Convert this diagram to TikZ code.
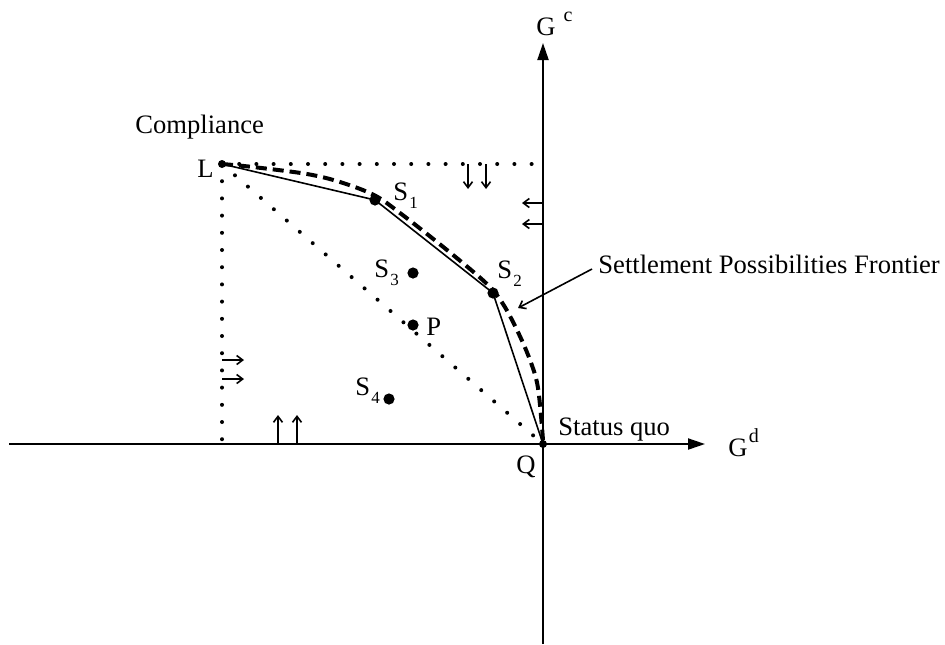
\documentclass[tikz,border=0pt]{standalone}
\usepackage{fontspec}
\setmainfont{Liberation Serif}
\usepackage{tikz}
\usetikzlibrary{arrows.meta,positioning}

\newcommand{\lowidx}[1]{\kern0.6pt\raisebox{-4pt}{\fontsize{8.5pt}{9pt}\selectfont #1}}
\newcommand{\highidx}[2]{\kern#1\raisebox{7pt}{\fontsize{10pt}{11pt}\selectfont #2}}

\begin{document}
\begin{tikzpicture}[x=0.5pt, y=-0.5pt, font=\fontsize{13.3pt}{16pt}\selectfont,
  dot/.style={circle, fill, inner sep=0pt, minimum size=5.6pt},
  lbl/.style={inner sep=0pt, anchor=base west},
  axis/.style={line width=1pt, -{Triangle[length=8.5pt, width=5.5pt]}},
  dotline/.style={line width=2pt, line cap=round, dash pattern=on 0pt off 8.6pt},
  frontier/.style={line width=2pt, dash pattern=on 5.5pt off 3pt},
  edge/.style={line width=0.8pt},
  push/.style={line width=0.8pt, -{Straight Barb[length=3pt, width=4.5pt]}},
]
\useasboundingbox (0,0) rectangle (945,644);

% axes
\coordinate (Q) at (543,444);
\coordinate (L) at (222,164);
\coordinate (xlo) at (9,444);
\coordinate (xhi) at (705,444);
\coordinate (ylo) at (543,644);
\coordinate (yhi) at (543,43);
\draw[axis] (xlo) -- (xhi);
\draw[axis] (ylo) -- (yhi);
\node[lbl] (gd) at (728,456) {G\highidx{0.6pt}{d}};
\node[lbl] (gc) at (536,35) {G\highidx{4pt}{c}};

% bounds of the settlement region
\draw[dotline] (L) -- (Q);
\draw[dotline] (L) -- (L |- Q);
\draw[dotline] (L) -- (Q |- L);

% settlements
\node[dot] (s1) at (375,200) {};
\node[dot] (s2) at (493,293) {};
\node[dot] (s3) at (413,273) {};
\node[dot] (p) at (413,325) {};
\node[dot] (s4) at (389,399) {};
\fill (L) circle (2pt);
\fill (Q) circle (2pt);

\draw[edge] (L) -- (s1.center) -- (s2.center) -- (Q);
\draw[frontier] plot[smooth, tension=0.55] coordinates {(222,164) (253,167) (307,174)
  (340,182) (374,195) (400,213) (447,250) (487,284) (503,304) (517,330) (530,360)
  (538,388) (543,440)};

% labels
\node[lbl] (comp) at (135,133) {Compliance};
\node[lbl] (lL) at (197,177) {L};
\node[lbl] (lQ) at (516,473) {Q};
\node[lbl] (ls1) at (393,200) {S\lowidx{1}};
\node[lbl] (ls2) at (497,278) {S\lowidx{2}};
\node[lbl] (ls3) at (374,277) {S\lowidx{3}};
\node[lbl] (ls4) at (355,395) {S\lowidx{4}};
\node[lbl] (lp) at (426,335) {P};
\node[lbl] (sq) at (558,435) {Status quo};
\node[lbl] (spf) at (598,273) {Settlement Possibilities Frontier};
\coordinate (spftip) at (518,308);
\draw[push] (592,269) -- (spftip);

% pressure arrows
\foreach \k/\xx in {1/468,2/486} {
  \coordinate (dn\k) at (\xx,164);
  \draw[push] (dn\k) -- ++(0,25);
}
\foreach \k/\yy in {1/203,2/224} {
  \coordinate (lf\k) at (543,\yy);
  \draw[push] (lf\k) -- ++(-21,0);
}
\foreach \k/\yy in {1/360,2/379} {
  \coordinate (rt\k) at (222,\yy);
  \draw[push] (rt\k) -- ++(22,0);
}
\foreach \k/\xx in {1/278,2/297} {
  \coordinate (up\k) at (\xx,444);
  \draw[push] (up\k) -- ++(0,-29);
}
\end{tikzpicture}
\end{document}
